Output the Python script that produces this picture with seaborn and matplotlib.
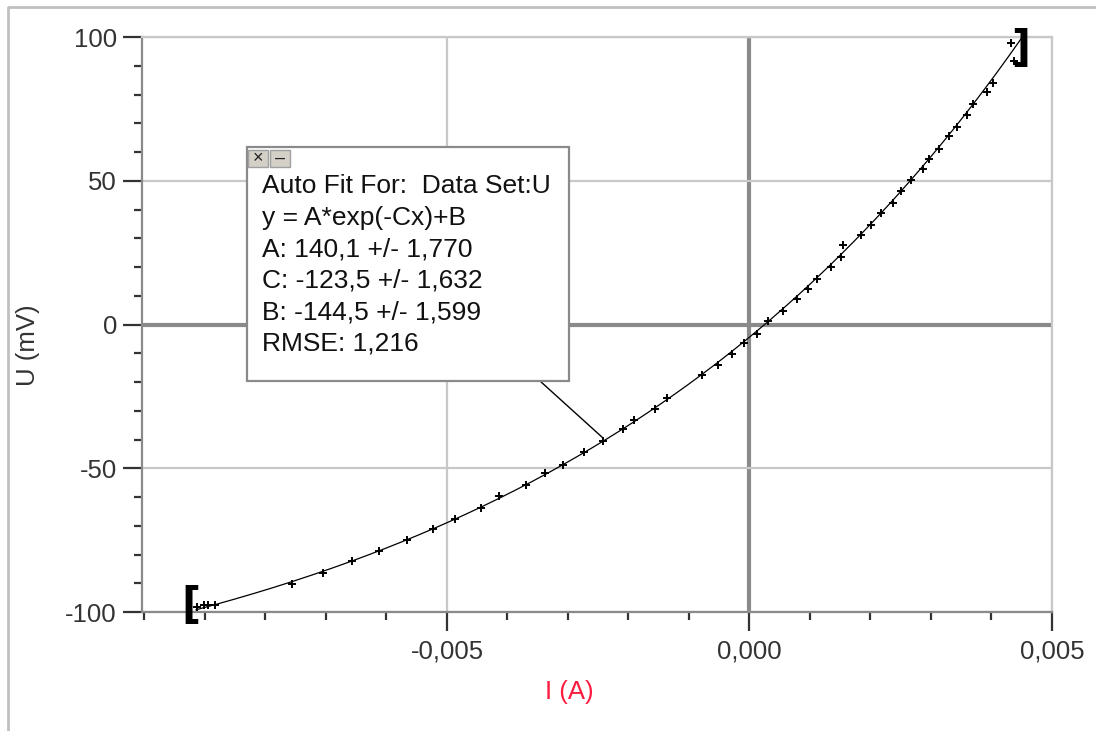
import numpy as np
import pandas as pd
import matplotlib
import matplotlib.pyplot as plt
import seaborn as sns
from matplotlib.patches import Rectangle
from matplotlib.lines import Line2D
from matplotlib.ticker import FixedLocator, MultipleLocator

matplotlib.use('Agg')

# ==========================================
# Data (I in A, U in mV)
# ==========================================
current_a = [
    -0.009137, -0.009012, -0.008945, -0.008835, -0.007567, -0.007045,
    -0.006575, -0.006119, -0.005666, -0.005226, -0.004868, -0.004443,
    -0.004140, -0.003699, -0.003380, -0.003078, -0.002736, -0.002417,
    -0.002096, -0.001909, -0.001562, -0.001369, -0.000777, -0.000526,
    -0.000289, -0.000086, 0.000119, 0.000311, 0.000549, 0.000780,
    0.000972, 0.001121, 0.001342, 0.001507, 0.001540, 0.001838,
    0.002003, 0.002169, 0.002367, 0.002499, 0.002669, 0.002863,
    0.002972, 0.003132, 0.003302, 0.003435, 0.003590, 0.003699,
    0.003921, 0.004030, 0.004317, 0.004377,
]
voltage_mv = [
    -98.1, -97.6, -97.6, -97.6, -90.2, -86.5,
    -82.3, -78.9, -74.9, -71.3, -67.5, -63.9,
    -59.8, -55.7, -51.8, -48.7, -44.4, -40.5,
    -36.5, -33.1, -29.3, -25.4, -17.7, -14.1,
    -10.1, -6.6, -3.2, 1.1, 4.6, 8.7,
    12.2, 15.9, 19.9, 23.5, 27.6, 31.3,
    34.7, 38.8, 42.3, 46.5, 50.2, 54.1,
    57.5, 61.1, 65.4, 68.8, 72.9, 76.6,
    81.0, 84.1, 98.0, 91.6,
]

# fit parameters shown in the box: y = A*exp(-Cx)+B
fit_A = 140.1
fit_C = -123.5
fit_B = -144.5
fit_start, fit_end = -0.00915, 0.00452

# selection brackets
bracket_x = [-0.00923, 0.00449]
bracket_y = [-97.8, 95.8]

x_major = [-0.005, 0.0, 0.005]
x_major_labels = ['-0,005', '0,000', '0,005']
y_major = [-100, -50, 0, 50, 100]

fit_text = [
    "Auto Fit For:  Data Set:U",
    "y = A*exp(-Cx)+B",
    "A: 140,1 +/- 1,770",
    "C: -123,5 +/- 1,632",
    "B: -144,5 +/- 1,599",
    "RMSE: 1,216",
]

df = pd.DataFrame({'I': current_a, 'U': voltage_mv})
fit_x = np.linspace(fit_start, fit_end, 300)
df_fit = pd.DataFrame({'I': fit_x, 'U': fit_A * np.exp(-fit_C * fit_x) + fit_B})

# ==========================================
# Figure
# ==========================================
sns.set_style('white')
plt.rcParams['font.family'] = ['Liberation Sans', 'DejaVu Sans']

W, H = 1096, 731
fig = plt.figure(figsize=(W / 100, H / 100), dpi=100)


def fpx(x, y):
    # pixel position (from top-left) -> figure fraction
    return x / W, 1 - y / H


ax = fig.add_axes([142 / W, 1 - 612 / H, 910 / W, 575 / H])

txt_col = '#333333'
grid_col = '#c8c8c8'
zero_col = '#8a8a8a'

for v in x_major:
    ax.axvline(v, color=zero_col if v == 0 else grid_col,
               lw=3 if v == 0 else 1.6, zorder=0)
for v in y_major:
    ax.axhline(v, color=zero_col if v == 0 else grid_col,
               lw=3 if v == 0 else 1.6, zorder=0)

sns.lineplot(data=df_fit, x='I', y='U', color='black', lw=0.9, ax=ax, zorder=2)
sns.scatterplot(data=df, x='I', y='U', marker='+', s=26, color='black',
                linewidth=1.4, ax=ax, zorder=3)

for bx, by, b in zip(bracket_x, bracket_y, ['[', ']']):
    ax.text(bx, by, b, fontsize=30, fontweight='bold', ha='center', va='center',
            family='DejaVu Sans', color='black', zorder=4)

ax.set_xlim(-0.01004, 0.005)
ax.set_ylim(-100, 100)

ax.xaxis.set_major_locator(FixedLocator(x_major))
ax.set_xticklabels(x_major_labels)
ax.xaxis.set_minor_locator(MultipleLocator(0.001))
ax.yaxis.set_major_locator(FixedLocator(y_major))
ax.set_yticklabels([str(v) for v in y_major])
ax.yaxis.set_minor_locator(MultipleLocator(10))

ax.tick_params(axis='both', which='major', length=14, width=1.6,
               color='#333333', labelsize=18.5, labelcolor=txt_col, pad=4,
               direction='out')
ax.tick_params(axis='x', which='major', pad=6)
ax.tick_params(axis='both', which='minor', length=6, width=1.6,
               color='#333333', direction='out')
ax.tick_params(bottom=True, left=True, which='both')

for s in ['left', 'bottom']:
    ax.spines[s].set_color('#8a8a8a')
    ax.spines[s].set_linewidth(1.6)
for s in ['top', 'right']:
    ax.spines[s].set_color(grid_col)
    ax.spines[s].set_linewidth(1.6)

ax.set_xlabel('I (A)', color='#ff1a40', fontsize=18.5)
ax.xaxis.set_label_coords(0.470, -0.118)
ax.set_ylabel('U (mV)', color=txt_col, fontsize=18.5)
ax.yaxis.set_label_coords(-0.112, 0.464)

# ==========================================
# Auto fit box
# ==========================================
x0, y0 = fpx(247, 381)
x1, y1 = fpx(569, 147)
fig.patches.append(Rectangle((x0, y0), x1 - x0, y1 - y0, transform=fig.transFigure,
                             facecolor='white', edgecolor='#8a8a8a', lw=1.6, zorder=5))
for bx0, sym in [(248, '×'), (270, '–')]:
    a, b = fpx(bx0, 167)
    c, d = fpx(bx0 + 20, 150)
    fig.patches.append(Rectangle((a, b), c - a, d - b, transform=fig.transFigure,
                                 facecolor='#d4d0c8', edgecolor='#a0a0a0', lw=1, zorder=6))
    fig.text((a + c) / 2, (b + d) / 2, sym, ha='center', va='center',
             fontsize=13, color='#222222', zorder=7)

for i, line in enumerate(fit_text):
    tx, ty = fpx(262, 186 + i * 31.6)
    fig.text(tx, ty, line, ha='left', va='center', fontsize=19,
             color='#111111', zorder=7)

# leader line from the box to the curve
lx0, ly0 = fpx(540, 381)
lx1, ly1 = fpx(603, 438)
fig.add_artist(Line2D([lx0, lx1], [ly0, ly1], transform=fig.transFigure,
                      color='black', lw=1, zorder=4))

# outer window frame
fig.add_artist(Line2D([8 / W, 8 / W, 1], [0, 1 - 7 / H, 1 - 7 / H],
                      transform=fig.transFigure, color='#c0c0c0', lw=2))

fig.savefig('out.png', dpi=100)
plt.close(fig)
